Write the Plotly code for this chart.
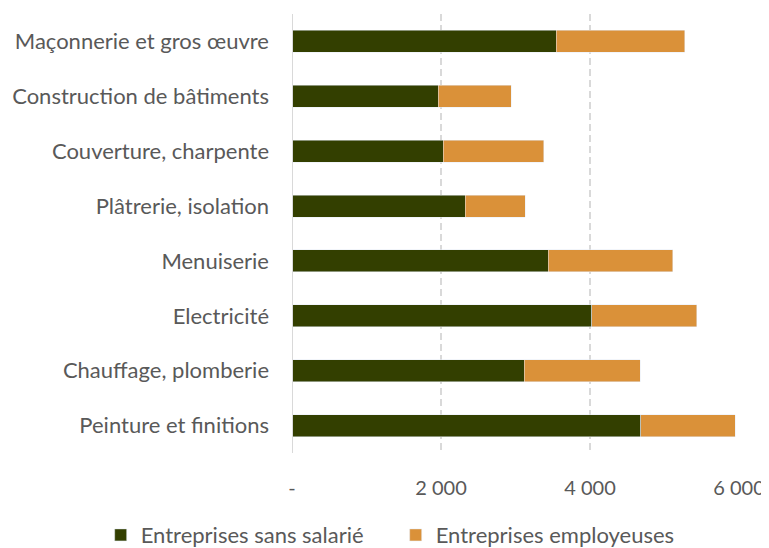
import plotly.graph_objects as go

categories = ["Maçonnerie et gros œuvre", "Construction de bâtiments", "Couverture, charpente",
              "Plâtrerie, isolation", "Menuiserie", "Electricité", "Chauffage, plomberie",
              "Peinture et finitions"]
sans_salarie = [3547, 1961, 2033, 2327, 3440, 4026, 3118, 4683]
employeuses = [1726, 983, 1349, 805, 1671, 1407, 1555, 1264]
tick_vals = [0, 2000, 4000, 6000]
tick_text = ["-", "2 000", "4 000", "6 000"]

font_family = "Lato, 'Open Sans', sans-serif"
gray = "#595959"

fig = go.Figure()
fig.add_trace(go.Bar(y=categories, x=sans_salarie, orientation="h",
                     name="Entreprises sans salarié", marker_color="#333f00"))
fig.add_trace(go.Bar(y=categories, x=employeuses, orientation="h",
                     name="Entreprises employeuses", marker_color="#da9139"))

fig.update_layout(
    barmode="stack",
    bargap=0.6,
    width=761, height=540,
    margin=dict(l=284, r=30, t=6, b=95, autoexpand=False),
    paper_bgcolor="white", plot_bgcolor="white",
    font=dict(family=font_family, size=20, color=gray),
    xaxis=dict(range=[0, 6000], tickvals=tick_vals, ticktext=tick_text,
               showgrid=True, gridcolor="#d9d9d9", griddash="7px,4px", gridwidth=2,
               zeroline=False, showline=False, ticks="", ticklen=0,
               ticklabelstandoff=21, automargin=False,
               tickfont=dict(size=20, color=gray)),
    yaxis=dict(autorange="reversed", showgrid=False, zeroline=False,
               showline=False, ticks="", ticklabelstandoff=22, automargin=False,
               tickfont=dict(size=22, color=gray)),
    legend=dict(orientation="h", x=-0.428, xanchor="left", y=-0.187, yanchor="middle",
                font=dict(size=22, color=gray), traceorder="normal",
                entrywidth=250),
    shapes=[dict(type="line", xref="x", yref="paper", x0=0, x1=0, y0=0, y1=1,
                 line=dict(color="#d9d9d9", width=2))],
)

fig.write_html("out.html")
